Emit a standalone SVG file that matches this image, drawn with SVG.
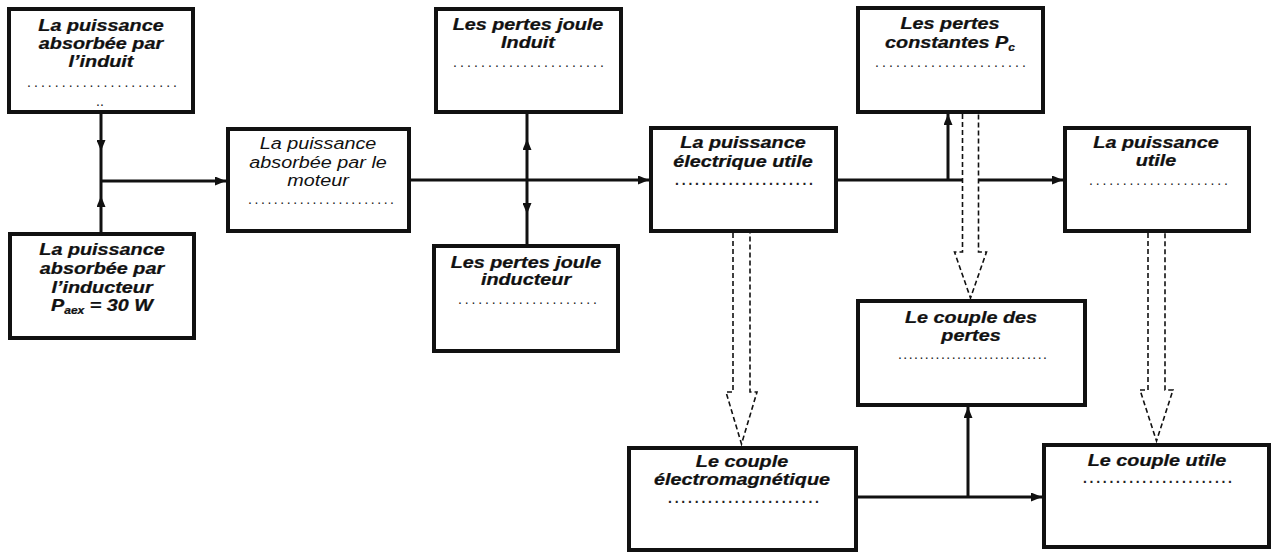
<svg xmlns="http://www.w3.org/2000/svg" width="1272" height="554" viewBox="0 0 1272 554">
  <defs>
    <style>
      .box { fill: #fff; stroke: #111; stroke-width: 4; }
      .lbl { font-family: "Liberation Sans", Arial, sans-serif; font-style: italic; font-weight: bold; font-size: 16.5px; text-anchor: middle; fill: #111; stroke: #111; stroke-width: 0.25; }
      .reg { font-weight: normal; stroke: none; }
      .dots { font-family: "Liberation Sans", Arial, sans-serif; font-size: 14px; fill: #222; }
      .bd { font-weight: bold; }
      .wire { fill: none; stroke: #111; stroke-width: 3; }
      .hollow { fill: #fff; stroke: none; }
      .dash { fill: none; stroke: #111; stroke-width: 1.6; stroke-dasharray: 5 3; }
    </style>
    <marker id="tip" markerUnits="userSpaceOnUse" markerWidth="11" markerHeight="9" refX="11" refY="4.5" orient="auto">
      <path d="M0,0 L11,4.5 L0,9 z" fill="#111"/>
    </marker>
  </defs>

  <rect width="1272" height="554" fill="#fff"/>

  <!-- power flow connectors -->
  <g id="connectors">
    <path class="wire" d="M101,114 L101,151 L101,181" marker-mid="url(#tip)"/>
    <path class="wire" d="M101,232 L101,196 L101,181" marker-mid="url(#tip)"/>
    <path class="wire" d="M101,181 H226" marker-end="url(#tip)"/>
    <path class="wire" d="M411,180 H649" marker-end="url(#tip)"/>
    <path class="wire" d="M527,180 L527,139 L527,114" marker-mid="url(#tip)"/>
    <path class="wire" d="M527,180 L527,214 L527,244" marker-mid="url(#tip)"/>
    <path class="wire" d="M838,180 H1063" marker-end="url(#tip)"/>
    <path class="wire" d="M948,181 V114" marker-end="url(#tip)"/>
    <path class="wire" d="M858,497 H1042" marker-end="url(#tip)"/>
    <path class="wire" d="M968,498 V407" marker-end="url(#tip)"/>

    <!-- hollow dashed arrows: power to torque -->
    <path class="hollow" d="M733,231 V392 H726 L741.5,444 L757,392 H750 V231 Z"/>
    <path class="dash" d="M733,233 V392 H726 L741.5,444 L757,392 H750 V233"/>
    <path class="hollow" d="M962.5,112 V252 H954.5 L970.5,298 L986.5,252 H978.5 V112 Z"/>
    <path class="dash" d="M962.5,114 V252 H954.5 L970.5,298 L986.5,252 H978.5 V114"/>
    <path class="hollow" d="M1148,231 V390 H1140 L1156.5,441 L1173,390 H1165 V231 Z"/>
    <path class="dash" d="M1148,233 V390 H1140 L1156.5,441 L1173,390 H1165 V233"/>
  </g>

  <g id="p-induit">
    <rect class="box" x="9" y="9" width="184" height="103"/>
    <g transform="translate(101 0) scale(1.2 1)" class="lbl">
      <text x="0" y="31">La puissance</text>
      <text x="0" y="49">absorbée par</text>
      <text x="0" y="67">l’induit</text>
    </g>
    <text class="dots" x="27" y="87" textLength="150" lengthAdjust="spacing">......................</text>
    <text class="dots" x="96" y="106">..</text>
  </g>

  <g id="p-moteur">
    <rect class="box" x="228" y="129" width="181" height="102"/>
    <g transform="translate(318 0) scale(1.2 1)" class="lbl reg">
      <text x="0" y="149">La puissance</text>
      <text x="0" y="168">absorbée par le</text>
      <text x="0" y="186">moteur</text>
    </g>
    <text class="dots" x="248" y="204" textLength="146" lengthAdjust="spacing">.......................</text>
  </g>

  <g id="p-inducteur">
    <rect class="box" x="10" y="234" width="184" height="104"/>
    <g transform="translate(102 0) scale(1.2 1)" class="lbl">
      <text x="0" y="255">La puissance</text>
      <text x="0" y="274">absorbée par</text>
      <text x="0" y="293">l’inducteur</text>
      <text x="0" y="311">P<tspan font-size="10" dy="3">aex</tspan><tspan dy="-3"> = 30 W</tspan></text>
    </g>
  </g>

  <g id="pj-induit">
    <rect class="box" x="436" y="9" width="185" height="103"/>
    <g transform="translate(528 0) scale(1.2 1)" class="lbl">
      <text x="0" y="30">Les pertes joule</text>
      <text x="0" y="48">Induit</text>
    </g>
    <text class="dots" x="453" y="67" textLength="151" lengthAdjust="spacing">......................</text>
  </g>

  <g id="p-elec-utile">
    <rect class="box" x="651" y="128" width="185" height="103"/>
    <g transform="translate(743 0) scale(1.2 1)" class="lbl">
      <text x="0" y="148">La puissance</text>
      <text x="0" y="167">électrique utile</text>
    </g>
    <text class="dots bd" x="675" y="185" textLength="138" lengthAdjust="spacing">.....................</text>
  </g>

  <g id="pj-inducteur">
    <rect class="box" x="434" y="246" width="184" height="105"/>
    <g transform="translate(526 0) scale(1.2 1)" class="lbl">
      <text x="0" y="268">Les pertes joule</text>
      <text x="0" y="285">inducteur</text>
    </g>
    <text class="dots" x="458" y="304" textLength="139" lengthAdjust="spacing">.....................</text>
  </g>

  <g id="p-constantes">
    <rect class="box" x="858" y="8" width="185" height="104"/>
    <g transform="translate(950 0) scale(1.2 1)" class="lbl">
      <text x="0" y="29">Les pertes</text>
      <text x="0" y="48">constantes P<tspan font-size="10" dy="3">c</tspan></text>
    </g>
    <text class="dots" x="875" y="67" textLength="151" lengthAdjust="spacing">......................</text>
  </g>

  <g id="p-utile">
    <rect class="box" x="1065" y="128" width="184" height="103"/>
    <g transform="translate(1156 0) scale(1.2 1)" class="lbl">
      <text x="0" y="148">La puissance</text>
      <text x="0" y="166">utile</text>
    </g>
    <text class="dots" x="1089" y="185" textLength="139" lengthAdjust="spacing">.....................</text>
  </g>

  <g id="c-pertes">
    <rect class="box" x="858" y="301" width="227" height="104"/>
    <g transform="translate(971 0) scale(1.2 1)" class="lbl">
      <text x="0" y="323">Le couple des</text>
      <text x="0" y="341">pertes</text>
    </g>
    <text class="dots" x="898" y="359" textLength="149" lengthAdjust="spacing">............................</text>
  </g>

  <g id="c-em">
    <rect class="box" x="629" y="448" width="227" height="102"/>
    <g transform="translate(742 0) scale(1.2 1)" class="lbl">
      <text x="0" y="467">Le couple</text>
      <text x="0" y="485">électromagnétique</text>
    </g>
    <text class="dots bd" x="668" y="503" textLength="151" lengthAdjust="spacing">.......................</text>
  </g>

  <g id="c-utile">
    <rect class="box" x="1044" y="445" width="225" height="102"/>
    <g transform="translate(1157 0) scale(1.2 1)" class="lbl">
      <text x="0" y="466">Le couple utile</text>
    </g>
    <text class="dots bd" x="1083" y="483" textLength="149" lengthAdjust="spacing">.......................</text>
  </g>
</svg>
